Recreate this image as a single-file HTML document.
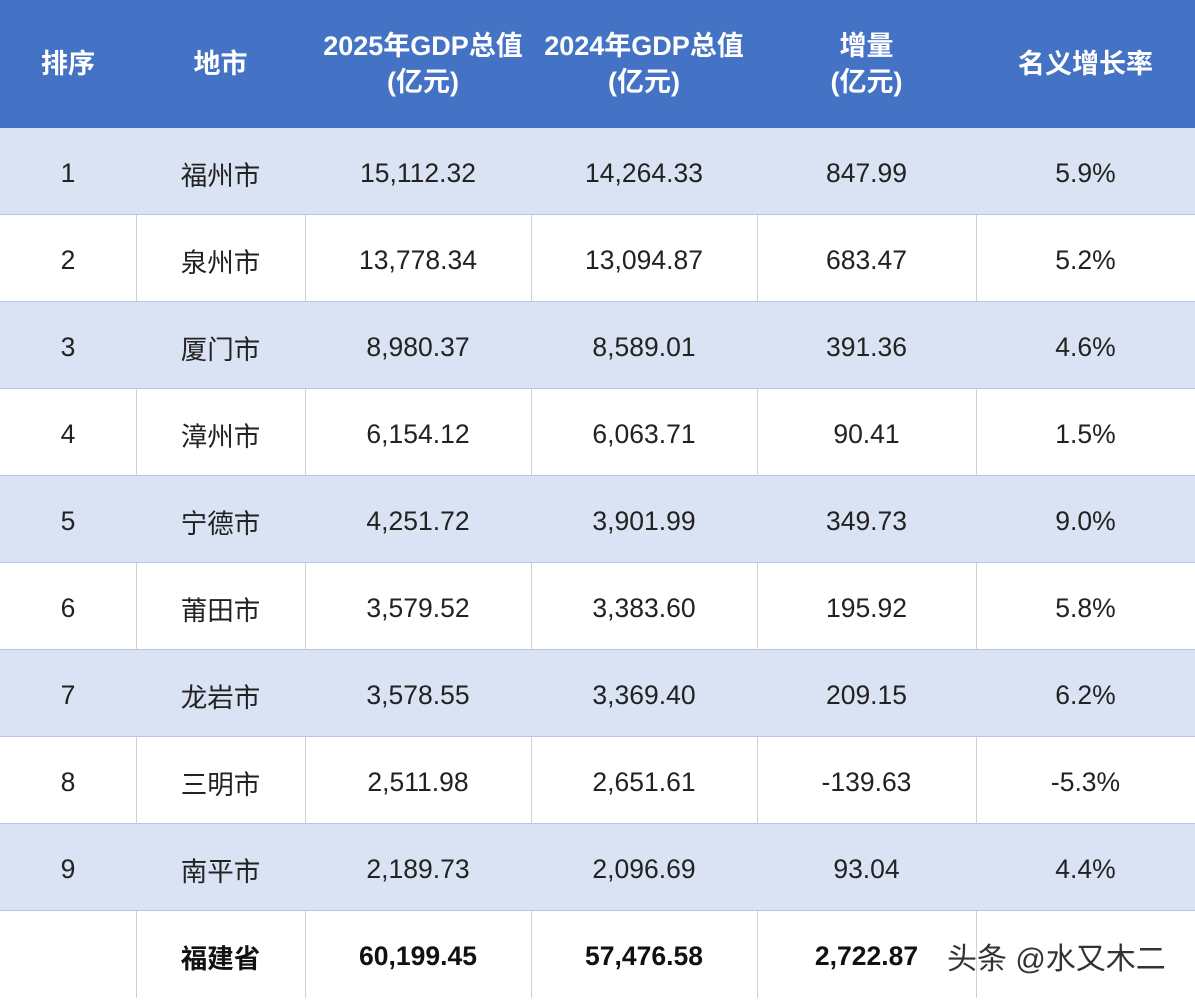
<!DOCTYPE html>
<html><head><meta charset="utf-8"><style>
body{margin:0;width:1195px;height:998px;overflow:hidden;background:#fff;font-family:"Liberation Sans","Noto Sans CJK SC",sans-serif;}
.c{position:absolute;display:flex;align-items:center;justify-content:center;text-align:center;color:#222;font-size:26.5px;box-sizing:border-box;}
.h{color:#fff;font-weight:bold;font-size:27px;line-height:36px;}
.row{position:absolute;left:0;width:1195px;box-sizing:border-box;border-bottom:1px solid #b4c6e7;}
.vl{position:absolute;width:1px;background:#d0d0d0;}
</style></head><body>
<div id="t"></div>
<script>
const cols=[0,136,305,531,757,976,1195];
const headers=["排序","地市","2025年GDP总值<br>(亿元)","2024年GDP总值<br>(亿元)","增量<br>(亿元)","名义增长率"];
const rows=[
["1","福州市","15,112.32","14,264.33","847.99","5.9%"],
["2","泉州市","13,778.34","13,094.87","683.47","5.2%"],
["3","厦门市","8,980.37","8,589.01","391.36","4.6%"],
["4","漳州市","6,154.12","6,063.71","90.41","1.5%"],
["5","宁德市","4,251.72","3,901.99","349.73","9.0%"],
["6","莆田市","3,579.52","3,383.60","195.92","5.8%"],
["7","龙岩市","3,578.55","3,369.40","209.15","6.2%"],
["8","三明市","2,511.98","2,651.61","-139.63","-5.3%"],
["9","南平市","2,189.73","2,096.69","93.04","4.4%"],
["","福建省","60,199.45","57,476.58","2,722.87",""]];
const t=document.getElementById('t');
const hd=document.createElement('div');


hd.className='row';hd.style.top='0px';hd.style.height='128px';hd.style.background='#4472c4';hd.style.borderBottom='none';
t.appendChild(hd);
headers.forEach((h,i)=>{const d=document.createElement('div');


d.className='c h';d.style.left=cols[i]+'px';d.style.width=(cols[i+1]-cols[i])+'px';d.style.top='0px';d.style.height='128px';d.innerHTML=h;
if(i==2)d.style.left=(cols[i]+5)+'px';
t.appendChild(d);});
const rh=87;
rows.forEach((r,k)=>{const top=128+k*rh;
const rw=document.createElement('div');


rw.className='row';rw.style.top=top+'px';rw.style.height=rh+'px';
const blue=k%2==0&&k<9;rw.style.background=blue?'#dae3f3':'#fff';
if(k==9)rw.style.borderBottom='none';
t.appendChild(rw);
if(!blue){for(let i=1;i<6;i++){const v=document.createElement('div');


v.className='vl';v.style.left=cols[i]+'px';v.style.top=top+'px';v.style.height=rh+'px';t.appendChild(v);}}
r.forEach((x,i)=>{const d=document.createElement('div');


d.className='c';d.style.left=cols[i]+'px';d.style.width=(cols[i+1]-cols[i])+'px';d.style.top=(top+2)+'px';d.style.height=rh+'px';d.textContent=x;
if(k==9){d.style.fontWeight='bold';d.style.color='#111';}
t.appendChild(d);});});
const w=document.createElement('div');


w.className='c';w.style.left='947px';w.style.top='935px';w.style.height='42px';w.style.fontSize='30px';w.style.color='#333';w.textContent='头条 @水又木二';
t.appendChild(w);
</script>
</body></html>
